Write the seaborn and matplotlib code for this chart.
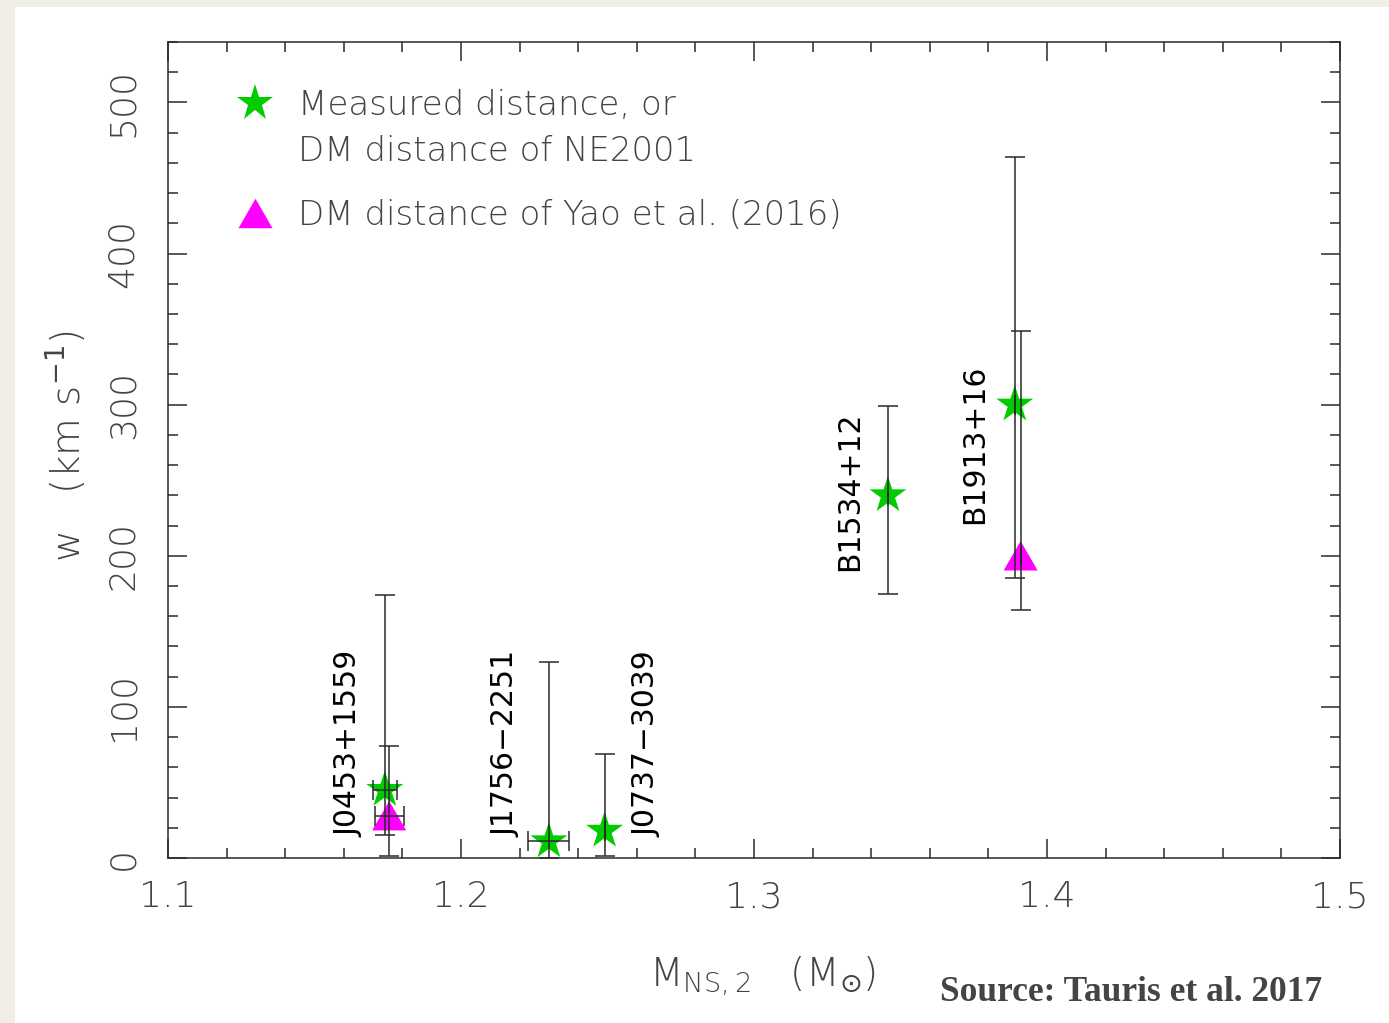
import numpy as np
import pandas as pd
import matplotlib
matplotlib.use("Agg")
import matplotlib.pyplot as plt
import seaborn as sns
from matplotlib.lines import Line2D
from matplotlib.path import Path
from matplotlib.patches import Rectangle
from matplotlib.ticker import MultipleLocator

# ---------------- data ----------------
pulsars = ["J0453+1559", "J1756\u22122251", "J0737\u22123039", "B1534+12", "B1913+16"]
mass_ne = [1.174, 1.230, 1.249, 1.3457, 1.389]
mass_err_ne = [0.004, 0.007, 0.0, 0.0, 0.0]
w_ne = [45, 11, 18, 240, 300]
w_ne_lo = [15, 0, 1, 175, 185]
w_ne_hi = [174, 130, 69, 299, 464]

mass_yao = [1.1755, 1.391]
mass_err_yao = [0.005, 0.0]
w_yao = [28, 200]
w_yao_lo = [1, 164]
w_yao_hi = [74, 349]

label_base_w = [14, 14, 14, 190, 221]
label_dx_px = [-36, -43, 42, -38, -40]

xticks = [1.1, 1.2, 1.3, 1.4, 1.5]
yticks = [0, 100, 200, 300, 400, 500]

legend_labels = ["Measured distance, or", "DM distance of NE2001",
                 "DM distance of Yao et al. (2016)"]

df_ne = pd.DataFrame({"mass": mass_ne, "w": w_ne})
df_yao = pd.DataFrame({"mass": mass_yao, "w": w_yao})

# ---------------- style ----------------
sns.set_theme(style="ticks")
plt.rcParams["font.family"] = ["DejaVu Sans"]
plt.rcParams["mathtext.fontset"] = "dejavusans"

GREEN = "#00cc00"
MAGENTA = "#ff00ff"
TXT = "#444444"
LINE = "#2a2a2a"
px = 0.72  # points per pixel at dpi=100

tri = Path([(-1, -0.866), (1, -0.866), (0, 0.866), (-1, -0.866)],
           [Path.MOVETO, Path.LINETO, Path.LINETO, Path.CLOSEPOLY])

fig = plt.figure(figsize=(13.89, 10.23), dpi=100)
fig.patch.set_facecolor("#f1eee8")
fig.add_artist(Rectangle((15 / 1389, 0), 1, 1 - 7 / 1023, transform=fig.transFigure,
                         facecolor="white", edgecolor="none", zorder=0))
ax = fig.add_axes([168 / 1389, 1 - 858 / 1023, (1340 - 168) / 1389, (858 - 42) / 1023])
ax.set_facecolor("white")

# markers
sns.scatterplot(data=df_ne, x="mass", y="w", marker="*", s=28 ** 2, color=GREEN,
                edgecolor="none", linewidth=0, ax=ax, zorder=3, legend=False)
sns.scatterplot(data=df_yao, x="mass", y="w", marker=tri, s=24.5 ** 2, color=MAGENTA,
                edgecolor="none", linewidth=0, ax=ax, zorder=3.5, legend=False)

# error bars
yerr_ne = np.array([np.subtract(w_ne, w_ne_lo), np.subtract(w_ne_hi, w_ne)])
yerr_yao = np.array([np.subtract(w_yao, w_yao_lo), np.subtract(w_yao_hi, w_yao)])
for m, w, xe, ye in [(mass_ne, w_ne, mass_err_ne, yerr_ne),
                     (mass_yao, w_yao, mass_err_yao, yerr_yao)]:
    ax.errorbar(m, w, xerr=xe, yerr=ye, fmt="none", ecolor=LINE, elinewidth=1.1,
                capsize=7, capthick=1.1, zorder=4)

# pulsar labels
for name, m, bw, dx in zip(pulsars, mass_ne, label_base_w, label_dx_px):
    ax.annotate(name, xy=(m, bw), xytext=(dx * px, 0), textcoords="offset points",
                rotation=90, ha="center", va="bottom", fontsize=21.5, color="black",
                fontweight="normal")

# axes
ax.set_xlim(1.1, 1.5)
ax.set_ylim(0, 540)
ax.xaxis.set_major_locator(MultipleLocator(0.1))
ax.xaxis.set_minor_locator(MultipleLocator(0.02))
ax.yaxis.set_major_locator(MultipleLocator(100))
ax.yaxis.set_minor_locator(MultipleLocator(20))
ax.set_xticks(xticks)
ax.set_xticklabels([f"{t:.1f}" for t in xticks])
ax.set_yticks(yticks)
ax.set_yticklabels([str(t) for t in yticks])
ax.tick_params(which="both", direction="in", top=True, right=True, color=LINE, width=1.1)
ax.tick_params(which="major", length=14)
ax.tick_params(which="minor", length=7)
ax.tick_params(axis="x", which="major", pad=16, labelsize=26, labelcolor=TXT)
ax.tick_params(axis="y", which="major", pad=20, labelsize=26, labelcolor=TXT, labelrotation=90)
for lbl in ax.get_xticklabels() + ax.get_yticklabels():
    lbl.set_fontweight(200)
for lbl in ax.get_yticklabels():
    lbl.set_va("center")
for sp in ax.spines.values():
    sp.set_color(LINE)
    sp.set_linewidth(1.1)

ax.set_ylabel(r"w   (km s$^{-1}$)", fontsize=28, color=TXT, fontweight=200)
ax.yaxis.set_label_coords(-0.068, 0.505)
ax.set_xlabel(r"M$_{\mathregular{NS,2}}$   (M$_{\odot}$)", fontsize=28, color=TXT, fontweight=200)
ax.xaxis.set_label_coords(0.507, -0.118)

# legend
h_star = Line2D([], [], linestyle="none", marker="*", markersize=28, color=GREEN,
                markeredgewidth=0)
h_none = Line2D([], [], linestyle="none", marker=None)
h_tri = Line2D([], [], linestyle="none", marker=tri, markersize=24.5, color=MAGENTA,
               markeredgewidth=0)
common = dict(frameon=False, fontsize=24.5, handlelength=1.0, handletextpad=0.75,
              borderpad=0, borderaxespad=0, loc="upper left", labelcolor=TXT)
leg1 = ax.legend([h_star, h_none], legend_labels[:2], bbox_to_anchor=(0.060, 0.942),
                 labelspacing=0.36, **common)
for t in leg1.get_texts():
    t.set_fontweight(200)
ax.add_artist(leg1)
leg2 = ax.legend([h_tri], legend_labels[2:], bbox_to_anchor=(0.060, 0.808), **common)
for t in leg2.get_texts():
    t.set_fontweight(200)

fig.text(940 / 1389, 1 - 1001 / 1023, "Source: Tauris et al. 2017", fontsize=25.5,
         fontweight="bold", family=["Liberation Serif", "DejaVu Serif"], color="#444444",
         va="baseline", ha="left")

fig.savefig("out.png", dpi=100, facecolor=fig.get_facecolor())
